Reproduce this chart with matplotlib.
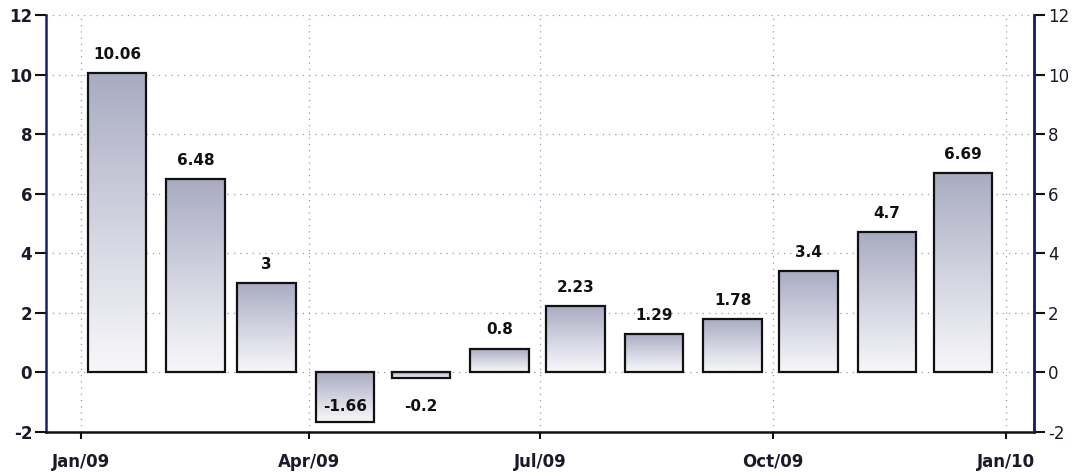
import datetime as dt

import matplotlib.pyplot as plt
import matplotlib.dates as mdates
import numpy as np
from matplotlib.colors import LinearSegmentedColormap

# monthly change, Jan/09 .. Dec/09
months = [dt.date(2009, m, 15) for m in range(1, 13)]
values = [10.06, 6.48, 3.0, -1.66, -0.2, 0.8, 2.23, 1.29, 1.78, 3.4, 4.7, 6.69]
labels = ["10.06", "6.48", "3", "-1.66", "-0.2", "0.8", "2.23", "1.29",
          "1.78", "3.4", "4.7", "6.69"]
quarter_ticks = [dt.date(2009, 1, 1), dt.date(2009, 4, 1), dt.date(2009, 7, 1),
                 dt.date(2009, 10, 1), dt.date(2010, 1, 1)]
quarter_labels = ["Jan/09", "Apr/09", "Jul/09", "Oct/09", "Jan/10"]
y_ticks = [-2, 0, 2, 4, 6, 8, 10, 12]

plt.rcParams["font.family"] = ["DejaVu Sans"]
plt.rcParams["axes.unicode_minus"] = False

fig = plt.figure(figsize=(10.83, 4.73), dpi=100)
ax = fig.add_axes([0.0425, 0.0867, 0.9123, 0.8816])

spine_col = "#1a1f6e"
grad = LinearSegmentedColormap.from_list("bar", ["#f7f7fa", "#d2d3e0", "#a9abc2"])
width = 23  # days

x = mdates.date2num(months)
for xi, v, lab in zip(x, values, labels):
    x0, x1 = xi - width / 2, xi + width / 2
    lo, hi = min(0, v), max(0, v)
    g = np.linspace(0, 1, 100).reshape(-1, 1)
    ax.imshow(g, cmap=grad, origin="lower", aspect="auto",
              extent=[x0, x1, lo, hi], zorder=2, interpolation="bicubic")
    ax.bar(xi, v, width=width, fill=False, edgecolor="#111111",
           linewidth=1.6, zorder=3)
    if v >= 0:
        ax.annotate(lab, (xi, v), xytext=(0, 8), textcoords="offset points",
                    ha="center", va="bottom", fontsize=11, fontweight="bold",
                    color="#111111", zorder=4)
    else:
        ax.text(xi, -1.15, lab, ha="center", va="center", fontsize=11,
                fontweight="bold", color="#111111", zorder=4)

ax.set_xlim(mdates.date2num(dt.date(2008, 12, 18)),
            mdates.date2num(dt.date(2010, 1, 12)))
ax.set_ylim(-2, 12)
ax.set_xticks(mdates.date2num(quarter_ticks))
ax.set_xticklabels(quarter_labels)
ax.set_yticks(y_ticks)

ax.grid(True, linestyle=(0, (1, 4)), color="#9a9ab0", linewidth=0.9, zorder=1)
ax.set_axisbelow(True)

ax.spines["top"].set_visible(False)
ax.spines["left"].set_color(spine_col)
ax.spines["left"].set_linewidth(1.8)
ax.spines["right"].set_color(spine_col)
ax.spines["right"].set_linewidth(1.8)
ax.spines["bottom"].set_color("#111111")
ax.spines["bottom"].set_linewidth(1.8)

ax.tick_params(axis="y", direction="out", length=8, width=1.5,
               color="#111111", labelsize=12, pad=2)
ax.tick_params(axis="x", direction="out", length=5, width=1.5,
               color="#111111", labelsize=12, pad=10)
for t in ax.get_xticklabels() + ax.get_yticklabels():
    t.set_fontweight("bold")
    t.set_color("#1a1a2a")

ax2 = ax.twinx()
ax2.set_ylim(ax.get_ylim())
ax2.set_yticks(y_ticks)
for side in ["top", "left", "bottom"]:
    ax2.spines[side].set_visible(False)
ax2.spines["right"].set_color(spine_col)
ax2.spines["right"].set_linewidth(1.8)
ax2.tick_params(axis="y", direction="out", length=8, width=1.5,
                color="#111111", labelsize=12, pad=2)
for t in ax2.get_yticklabels():
    t.set_color("#1a1a2a")

fig.savefig("out.png", dpi=100)
